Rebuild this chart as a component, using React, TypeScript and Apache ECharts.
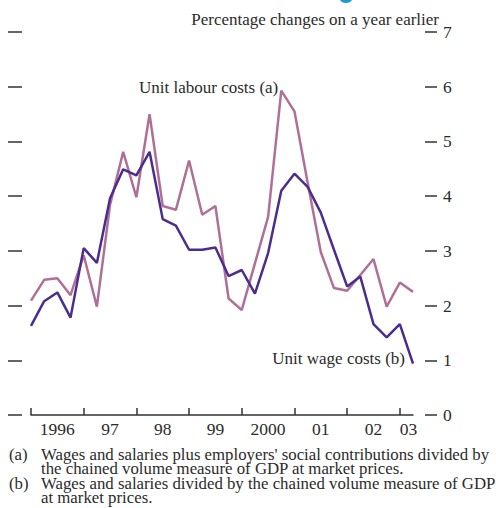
import React, { useEffect, useRef } from "react";
import * as echarts from "echarts";

const quarters = [
  "1996 Q1", "1996 Q2", "1996 Q3", "1996 Q4",
  "1997 Q1", "1997 Q2", "1997 Q3", "1997 Q4",
  "1998 Q1", "1998 Q2", "1998 Q3", "1998 Q4",
  "1999 Q1", "1999 Q2", "1999 Q3", "1999 Q4",
  "2000 Q1", "2000 Q2", "2000 Q3", "2000 Q4",
  "2001 Q1", "2001 Q2", "2001 Q3", "2001 Q4",
  "2002 Q1", "2002 Q2", "2002 Q3", "2002 Q4",
  "2003 Q1", "2003 Q2",
];

const yearLabels: Record<string, string> = {
  "1996": "1996", "1997": "97", "1998": "98", "1999": "99",
  "2000": "2000", "2001": "01", "2002": "02", "2003": "03",
};

const unitLabourCosts = [
  2.09, 2.47, 2.5, 2.19, 2.92, 1.98, 3.84, 4.81,
  3.98, 5.5, 3.82, 3.75, 4.65, 3.66, 3.82, 2.13,
  1.92, 2.77, 3.62, 5.93, 5.55, 4.25, 2.98, 2.32,
  2.27, 2.56, 2.85, 1.98, 2.42, 2.25,
];

const unitWageCosts = [
  1.63, 2.08, 2.24, 1.78, 3.05, 2.78, 3.96, 4.49,
  4.38, 4.81, 3.58, 3.46, 3.02, 3.02, 3.06, 2.54,
  2.65, 2.22, 2.96, 4.1, 4.41, 4.17, 3.7, 3.02,
  2.35, 2.53, 1.66, 1.42, 1.66, 0.94,
];

const yTicks = [0, 1, 2, 3, 4, 5, 6, 7];

const titleText = "Percentage changes on a year earlier";
const labourLabel = "Unit labour costs (a)";
const wageLabel = "Unit wage costs (b)";
const footnoteMarks = ["(a)", "(b)"];
const footnoteTexts = [
  "Wages and salaries plus employers' social contributions divided by\nthe chained volume measure of GDP at market prices.",
  "Wages and salaries divided by the chained volume measure of GDP\nat market prices.",
];

const FONT = "'Liberation Serif', serif";
const TEXT = "#2b2b2b";
const PINK = "#b07096";
const PURPLE = "#4b2d91";

export default function App() {
  const ref = useRef<HTMLDivElement>(null);

  useEffect(() => {
    if (!ref.current) return;
    const chart = echarts.init(ref.current, undefined, { renderer: "svg" });

    const labourIdx = unitLabourCosts.indexOf(Math.max(...unitLabourCosts));
    const wageIdx = unitWageCosts.length - 1;

    const labelStyle = { color: TEXT, fontFamily: FONT, fontSize: 17 };

    const labourData = unitLabourCosts.map((v, i) =>
      i === labourIdx
        ? {
            value: v,
            label: {
              show: true,
              position: "left",
              distance: 3,
              offset: [0, -3],
              formatter: labourLabel,
              ...labelStyle,
            },
          }
        : v
    );
    const wageData = unitWageCosts.map((v, i) =>
      i === wageIdx
        ? {
            value: v,
            label: {
              show: true,
              position: "left",
              distance: 8,
              offset: [0, -5],
              formatter: wageLabel,
              ...labelStyle,
            },
          }
        : v
    );

    const footGraphics: any[] = [];
    const footTops = [445.5, 474.5];
    footnoteTexts.forEach((t, k) => {
      footGraphics.push({
        type: "text",
        left: 9,
        top: footTops[k],
        style: { text: footnoteMarks[k], font: `16.8px ${FONT}`, fill: TEXT, lineHeight: 14.3 },
      });
      footGraphics.push({
        type: "text",
        left: 41,
        top: footTops[k],
        style: { text: t, font: `16.8px ${FONT}`, fill: TEXT, lineHeight: 14.3 },
      });
    });

    const option: any = {
      animation: false,
      grid: { left: 31, right: 83, top: 32, bottom: 93, containLabel: false },
      xAxis: {
        type: "category",
        data: quarters.map((q, i) =>
          i === quarters.length - 1
            ? { value: q, textStyle: { padding: [0, 9, 0, 0] } }
            : q
        ),
        boundaryGap: false,
        axisLine: { show: true, lineStyle: { color: "#333", width: 1.5 } },
        axisTick: {
          show: true,
          inside: true,
          length: 7,
          interval: (i: number) => i % 4 === 0,
          lineStyle: { color: "#333", width: 1.5 },
        },
        axisLabel: {
          show: true,
          interval: (i: number) => i % 4 === 2 || i === quarters.length - 1,
          formatter: (v: string) => yearLabels[v.slice(0, 4)],
          color: TEXT,
          fontFamily: FONT,
          fontSize: 17.5,
          margin: 5,
        },
        splitLine: { show: false },
      },
      yAxis: [
        {
          type: "value",
          position: "right",
          offset: 12,
          min: 0,
          max: 7,
          interval: 1,
          axisLine: { show: false },
          axisTick: {
            show: true,
            inside: false,
            length: 12,
            lineStyle: { color: "#333", width: 1.5 },
          },
          axisLabel: {
            show: true,
            margin: 18,
            color: TEXT,
            fontFamily: FONT,
            fontSize: 17.5,
            formatter: (v: number) => (yTicks.includes(v) ? String(v) : ""),
          },
          splitLine: { show: false },
        },
        {
          type: "value",
          position: "left",
          offset: 9,
          min: 0,
          max: 7,
          interval: 1,
          axisLine: { show: false },
          axisTick: {
            show: true,
            inside: false,
            length: 14,
            lineStyle: { color: "#333", width: 1.5 },
          },
          axisLabel: { show: false },
          splitLine: { show: false },
        },
      ],
      series: [
        {
          name: labourLabel,
          type: "line",
          data: labourData,
          yAxisIndex: 0,
          symbol: "circle",
          symbolSize: 0,
          showSymbol: true,
          lineStyle: { color: PINK, width: 2.5 },
          itemStyle: { color: PINK },
          z: 2,
        },
        {
          name: wageLabel,
          type: "line",
          data: wageData,
          yAxisIndex: 0,
          symbol: "circle",
          symbolSize: 0,
          showSymbol: true,
          lineStyle: { color: PURPLE, width: 2.5 },
          itemStyle: { color: PURPLE },
          z: 3,
        },
      ],
      graphic: [
        {
          type: "ellipse",
          shape: { cx: 346, cy: -2, rx: 6.5, ry: 5 },
          style: { fill: "#1a9ad6" },
        },
        {
          type: "text",
          right: 57,
          top: 11,
          style: { text: titleText, font: `17px ${FONT}`, fill: TEXT },
        },
        ...footGraphics,
      ],
    };

    chart.setOption(option);
    return () => chart.dispose();
  }, []);

  return (
    <div
      ref={ref}
      style={{ position: "absolute", left: 0, top: 0, width: 496, height: 508 }}
    />
  );
}
